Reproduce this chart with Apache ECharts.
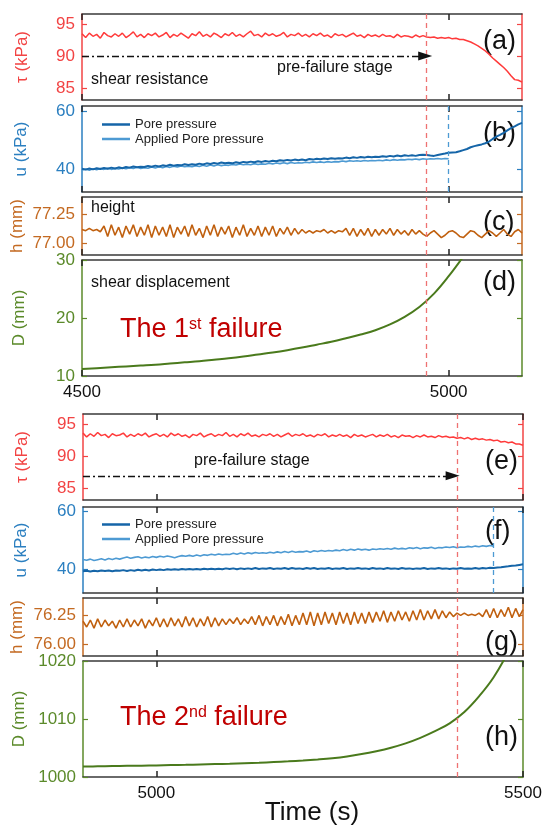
<!DOCTYPE html>
<html>
<head>
<meta charset="utf-8">
<script src="https://cdn.jsdelivr.net/npm/echarts@6/dist/echarts.min.js"></script>
<style>
  html, body { margin: 0; padding: 0; background: #fff; }
  #chart { width: 545px; height: 825px; }
</style>
</head>
<body>
<div id="chart"></div>
<script>
// ==================== 数据 ====================
// sample step of the logged series (s)
const stepSec = 5;
const firstStart = 4500;   // 1st failure window
const secondStart = 4900;  // 2nd failure window

// ---- 1st failure (a)-(d) ----
const tauFirst = [
  93.5, 92.9, 93.6, 93.1, 93.4, 92.8, 93.7, 93.2, 93.0, 93.5,
  93.1, 93.6, 92.9, 93.3, 93.8, 93.0, 93.4, 92.9, 93.5, 93.2,
  93.6, 93.0, 93.3, 93.7, 92.9, 93.4, 93.1, 93.6, 93.2, 92.8,
  93.5, 93.2, 93.8, 93.1, 93.4, 93.0, 93.6, 93.3, 92.9, 93.5,
  93.2, 93.7, 93.1, 93.4, 93.0, 93.5, 93.9, 93.2, 93.4, 93.0,
  93.6, 93.2, 93.5, 93.1, 93.3, 93.7, 93.0, 93.4, 93.2, 93.6,
  93.1, 93.4, 93.0, 93.5, 93.2, 93.6, 93.1, 93.3, 92.9, 93.5,
  93.2, 93.4, 93.0, 93.3, 93.6, 93.1, 93.3, 92.9, 93.4, 93.1,
  93.3, 93.0, 93.4, 93.1, 93.2, 92.9, 93.4, 93.0, 93.2, 93.1,
  92.9, 93.3, 93.0, 93.2, 93.0, 92.9, 93.0, 92.8, 92.9, 92.8,
  92.9, 92.7, 92.8, 92.6, 92.6, 92.4, 92.2, 91.9, 91.6, 91.2,
  90.8, 90.3, 89.7, 89.2, 88.7, 88.2, 87.6, 86.9, 86.3, 86.2,
  85.9
];
const poreFirst = [
  40.1, 39.8, 40.2, 39.9, 40.3, 40.0, 40.4, 40.1, 40.5, 40.2,
  40.6, 40.3, 40.7, 40.5, 40.9, 40.6, 40.8, 40.7, 41.1, 40.8,
  41.2, 40.9, 41.3, 41.1, 41.5, 41.2, 41.4, 41.3, 41.7, 41.4,
  41.7, 41.5, 41.9, 41.6, 42.0, 41.8, 42.1, 41.9, 42.3, 42.0,
  42.2, 42.0, 42.4, 42.1, 42.5, 42.3, 42.6, 42.4, 42.7, 42.5,
  42.8, 42.6, 42.9, 42.7, 43.1, 42.9, 43.2, 43.0, 43.3, 43.1,
  43.3, 43.1, 43.5, 43.3, 43.6, 43.4, 43.7, 43.5, 43.8, 43.6,
  43.8, 43.7, 44.0, 43.8, 44.1, 43.9, 44.2, 44.0, 44.3, 44.1,
  44.3, 44.2, 44.5, 44.3, 44.6, 44.4, 44.7, 44.5, 44.8, 44.6,
  44.8, 44.6, 44.9, 45.0, 44.9, 44.7, 44.6, 44.9, 45.2, 45.4,
  45.7, 45.8, 45.9, 46.2, 46.6, 47.0, 47.6, 48.0, 48.3, 48.6,
  49.0, 49.6, 50.5, 51.3, 51.9, 52.6, 53.5, 54.3, 54.9, 55.6,
  56.1
];
const appliedFirst = [
  39.7, 40.0, 39.6, 40.1, 39.8, 40.2, 39.9, 40.3, 39.9, 40.2,
  40.0, 40.4, 40.1, 40.5, 40.2, 40.6, 40.2, 40.5, 40.3, 40.7,
  40.4, 40.8, 40.5, 40.9, 40.6, 41.0, 40.7, 41.1, 40.8, 41.0,
  40.8, 41.2, 40.9, 41.3, 41.0, 41.4, 41.1, 41.5, 41.2, 41.4,
  41.3, 41.6, 41.4, 41.8, 41.5, 41.7, 41.5, 41.9, 41.6, 41.8,
  41.7, 42.0, 41.8, 42.1, 41.9, 42.2, 41.9, 42.3, 42.0, 42.2,
  42.1, 42.4, 42.2, 42.5, 42.3, 42.5, 42.3, 42.6, 42.4, 42.6,
  42.5, 42.8, 42.6, 42.9, 42.7, 42.9, 42.7, 43.0, 42.8, 43.0,
  42.9, 43.1, 42.9, 43.2, 43.0, 43.3, 43.1, 43.3, 43.2, 43.4,
  43.3, 43.5, 43.3, 43.6, 43.4, 43.6, 43.5, 43.7, 43.5, 43.7,
  43.6
];
const heightFirst = [
  77.12, 77.11, 77.13, 77.11, 77.12, 77.10, 77.15, 77.06, 77.16, 77.07,
  77.14, 77.05, 77.15, 77.08, 77.16, 77.06, 77.14, 77.07, 77.16, 77.05,
  77.15, 77.07, 77.14, 77.06, 77.16, 77.05, 77.14, 77.08, 77.15, 77.06,
  77.16, 77.07, 77.13, 77.05, 77.15, 77.07, 77.16, 77.06, 77.14, 77.08,
  77.15, 77.05, 77.14, 77.07, 77.16, 77.06, 77.13, 77.07, 77.15, 77.06,
  77.14, 77.07, 77.15, 77.06, 77.13, 77.08, 77.14, 77.07, 77.13, 77.08,
  77.12, 77.09, 77.11, 77.09, 77.11, 77.10, 77.12, 77.09, 77.11, 77.09,
  77.11, 77.10, 77.13, 77.07, 77.13, 77.06, 77.12, 77.07, 77.13, 77.06,
  77.12, 77.07, 77.12, 77.08, 77.13, 77.07, 77.12, 77.08, 77.11, 77.07,
  77.12, 77.08, 77.11, 77.08, 77.06, 77.09, 77.11, 77.08, 77.05, 77.07,
  77.10, 77.11, 77.09, 77.06, 77.05, 77.08, 77.11, 77.10, 77.07, 77.05,
  77.08, 77.11, 77.09, 77.06, 77.09, 77.12, 77.08, 77.06, 77.10, 77.12,
  77.09
];
const dispFirstTime = [
  4500, 4520, 4540, 4560, 4580, 4600, 4620, 4640, 4660, 4680,
  4700, 4720, 4740, 4760, 4780, 4800, 4820, 4840, 4860, 4880,
  4900, 4920, 4940, 4960, 4980, 5000, 5020
];
const dispFirst = [
  11.2, 11.35, 11.5, 11.65, 11.8, 11.95, 12.15, 12.35, 12.55, 12.8,
  13.05, 13.35, 13.7, 14.05, 14.45, 14.9, 15.4, 15.9, 16.5, 17.15,
  17.9, 18.9, 20.2, 21.9, 24.2, 27.2, 30.6
];

// ---- 2nd failure (e)-(h) ----
const tauSecond = [
  93.6, 93.0, 93.5, 93.1, 93.7, 93.2, 93.4, 92.9, 93.5, 93.2,
  93.3, 93.6, 93.0, 93.4, 93.1, 93.5, 93.2, 93.6, 93.0, 93.3,
  93.5, 93.1, 93.4, 93.0, 93.6, 93.2, 93.5, 93.1, 93.3, 92.9,
  93.4, 93.2, 93.6, 93.0, 93.3, 93.5, 93.1, 93.4, 93.2, 93.7,
  93.1, 93.4, 93.0, 93.5, 93.2, 93.6, 93.1, 93.3, 93.0, 93.4,
  93.2, 93.5, 93.1, 93.4, 93.0, 93.3, 93.6, 93.1, 93.4, 93.2,
  93.5, 93.1, 93.3, 93.0, 93.4, 93.2, 93.5, 93.0, 93.3, 93.1,
  93.4, 93.1, 93.3, 92.9, 93.4, 93.1, 93.3, 93.0, 93.2, 93.4,
  93.0, 93.3, 93.1, 93.4, 93.0, 93.2, 92.9, 93.3, 93.1, 93.2,
  92.9, 93.2, 93.0, 93.3, 93.0, 93.1, 92.9, 93.2, 93.0, 93.1,
  92.9, 93.0, 92.8, 92.9, 92.7, 92.9, 92.6, 92.8, 92.6, 92.7,
  92.5, 92.6, 92.4, 92.5, 92.2, 92.3, 92.1, 92.2, 91.9, 91.9,
  91.7
];
const poreSecond = [
  39.3, 39.5, 39.2, 39.5, 39.3, 39.6, 39.4, 39.6, 39.3, 39.6,
  39.5, 39.7, 39.4, 39.7, 39.5, 39.8, 39.6, 39.8, 39.6, 39.9,
  39.7, 39.9, 39.7, 40.0, 39.8, 40.0, 39.8, 40.1, 39.9, 40.1,
  39.9, 40.1, 39.9, 40.2, 40.0, 40.2, 40.0, 40.2, 40.0, 40.3,
  40.1, 40.3, 40.0, 40.3, 40.1, 40.3, 40.1, 40.4, 40.1, 40.3,
  40.2, 40.4, 40.1, 40.3, 40.2, 40.4, 40.1, 40.4, 40.2, 40.3,
  40.1, 40.4, 40.2, 40.4, 40.1, 40.3, 40.2, 40.4, 40.1, 40.3,
  40.2, 40.4, 40.1, 40.3, 40.2, 40.4, 40.2, 40.3, 40.1, 40.4,
  40.2, 40.3, 40.1, 40.4, 40.2, 40.3, 40.1, 40.4, 40.2, 40.3,
  40.1, 40.3, 40.2, 40.4, 40.1, 40.3, 40.2, 40.4, 40.2, 40.3,
  40.1, 40.3, 40.2, 40.4, 40.2, 40.3, 40.2, 40.4, 40.2, 40.4,
  40.3, 40.5, 40.4, 40.6, 40.7, 40.9, 41.0, 41.2, 41.3, 41.5,
  41.7
];
const appliedSecond = [
  43.4, 43.1, 43.5, 43.0, 43.3, 43.6, 43.2, 43.7, 43.4, 43.8,
  43.5, 43.9, 44.2, 43.8, 44.1, 44.3, 43.9, 44.2, 44.0, 44.4,
  44.1, 44.5, 44.2, 44.6, 44.3, 44.0, 44.4, 44.7, 44.5, 44.8,
  44.5, 44.9, 44.6, 45.0, 44.8, 45.2, 44.9, 45.3, 45.0, 45.2,
  45.1, 45.5, 45.2, 45.6, 45.3, 45.7, 45.4, 45.8, 45.5, 45.7,
  45.5, 45.9, 45.6, 46.0, 45.7, 46.1, 45.8, 46.2, 45.9, 46.1,
  46.0, 46.3, 45.9, 46.4, 46.1, 46.5, 46.2, 46.5, 46.3, 46.6,
  46.4, 46.8, 46.5, 46.9, 46.6, 47.0, 46.7, 46.9, 46.6, 47.0,
  46.8, 47.1, 46.9, 47.2, 46.9, 47.3, 47.0, 47.2, 47.0, 47.4,
  47.2, 47.5, 47.1, 47.4, 47.3, 47.6, 47.2, 47.5, 47.4, 47.7,
  47.5, 47.8, 47.4, 47.7, 47.6, 47.9, 47.7, 48.0, 47.8, 48.1,
  47.9, 48.2, 48.0
];
const heightSecond = [
  76.20, 76.15, 76.21, 76.14, 76.22, 76.15, 76.21, 76.16, 76.20, 76.14,
  76.21, 76.15, 76.22, 76.15, 76.21, 76.16, 76.22, 76.14, 76.21, 76.16,
  76.23, 76.15, 76.22, 76.15, 76.23, 76.16, 76.22, 76.15, 76.24, 76.16,
  76.23, 76.15, 76.22, 76.16, 76.24, 76.15, 76.23, 76.16, 76.22, 76.17,
  76.22, 76.18, 76.23, 76.17, 76.22, 76.18, 76.24, 76.17, 76.25, 76.16,
  76.24, 76.17, 76.25, 76.16, 76.24, 76.17, 76.26, 76.16, 76.25, 76.17,
  76.27, 76.17, 76.28, 76.16, 76.27, 76.17, 76.28, 76.18, 76.27, 76.17,
  76.28, 76.18, 76.27, 76.17, 76.28, 76.18, 76.27, 76.18, 76.28, 76.19,
  76.28, 76.20, 76.29, 76.19, 76.28, 76.20, 76.29, 76.21, 76.28, 76.20,
  76.29, 76.21, 76.30, 76.21, 76.29, 76.22, 76.30, 76.22, 76.29, 76.23,
  76.28, 76.24, 76.27, 76.25, 76.27, 76.25, 76.26, 76.25, 76.27, 76.24,
  76.30, 76.23, 76.31, 76.23, 76.30, 76.24, 76.32, 76.23, 76.31, 76.24,
  76.30
];
const dispSecondTime = [
  4900, 4920, 4940, 4960, 4980, 5000, 5020, 5040, 5060, 5080,
  5100, 5120, 5140, 5160, 5180, 5200, 5220, 5240, 5260, 5280,
  5300, 5320, 5340, 5360, 5380, 5400, 5420, 5440, 5460, 5480
];
const dispSecond = [
  1001.80, 1001.84, 1001.88, 1001.92, 1001.96, 1002.00, 1002.05, 1002.10, 1002.16, 1002.22,
  1002.29, 1002.37, 1002.46, 1002.57, 1002.70, 1002.85, 1003.03, 1003.25, 1003.55, 1003.95,
  1004.45, 1005.05, 1005.80, 1006.75, 1007.90, 1009.25, 1011.20, 1013.90, 1017.20, 1021.60
];

// markers: pre-failure line, applied-pressure stop, pre-failure arrow
const failFirst = 4970;
const failSecond = 5410;
const appliedStopFirst = 5000;
const appliedStopSecond = 5460;
const arrowFirst = [[4500, 90], [4968, 90]];
const arrowSecond = [[4900, 86.9], [5404, 86.9]];

// tick values
const xTicksFirst = [4500, 5000];
const xTicksSecond = [5000, 5500];
const tauTicks = [85, 90, 95];
const poreTicks = [40, 60];
const heightTicksFirst = [77.00, 77.25];
const heightTicksSecond = [76.00, 76.25];
const dispTicksFirst = [10, 20, 30];
const dispTicksSecond = [1000, 1010, 1020];

// ==================== 样式 ====================
const FONT = '"Liberation Sans", Arial, sans-serif';
const C = {
  red: '#f24444', redLine: '#ff3a3a',
  blue: '#2b7fc0', pore: '#1565a8', applied: '#4d9ad3',
  brown: '#c46a22', brownLine: '#c0600f',
  green: '#5b8a2a', greenLine: '#4a7a1c',
  frame: '#3a3a3a', failRed: '#ee7272', failText: '#c00000'
};

function toPairs(start, values) {
  return values.map((v, i) => [start + i * stepSec, v]);
}

// ==================== 面板 ====================
const panels = [
  { top: 14,  height: 86,  left: 82, right: 23, x: [4500, 5100], y: [83.1, 96.6], yTicks: tauTicks, color: C.red, xTicks: xTicksFirst },
  { top: 106, height: 86,  left: 82, right: 23, x: [4500, 5100], y: [32, 62], yTicks: poreTicks, color: C.blue, xTicks: xTicksFirst },
  { top: 197, height: 58,  left: 82, right: 23, x: [4500, 5100], y: [76.9, 77.4], yTicks: heightTicksFirst, color: C.brown, xTicks: xTicksFirst, dec: 2 },
  { top: 260, height: 116, left: 82, right: 23, x: [4500, 5100], y: [10, 30], yTicks: dispTicksFirst, color: C.green, xTicks: xTicksFirst, labels: true },
  { top: 414, height: 86,  left: 83, right: 22, x: [4900, 5500], y: [83.1, 96.6], yTicks: tauTicks, color: C.red, xTicks: xTicksSecond },
  { top: 507, height: 86,  left: 83, right: 22, x: [4900, 5500], y: [31.8, 61.5], yTicks: poreTicks, color: C.blue, xTicks: xTicksSecond },
  { top: 598, height: 58,  left: 83, right: 22, x: [4900, 5500], y: [75.9, 76.4], yTicks: heightTicksSecond, color: C.brown, xTicks: xTicksSecond, dec: 2 },
  { top: 661, height: 116, left: 83, right: 22, x: [4900, 5500], y: [1000, 1020], yTicks: dispTicksSecond, color: C.green, xTicks: xTicksSecond, labels: true }
];

const grids = [], xAxes = [], yAxes = [];
panels.forEach((p, k) => {
  grids.push({ left: p.left, right: p.right, top: p.top, height: p.height });
  ['bottom', 'top'].forEach(pos => {
    xAxes.push({
      type: 'value', gridIndex: k, position: pos, min: p.x[0], max: p.x[1],
      axisLine: { show: true, onZero: false, lineStyle: { color: C.frame, width: 1.5 } },
      axisTick: { show: true, inside: true, length: 6, customValues: p.xTicks, lineStyle: { color: '#222', width: 1.5 } },
      axisLabel: {
        show: pos === 'bottom' && !!p.labels, customValues: p.xTicks,
        color: '#111', fontSize: 17, fontFamily: FONT, margin: 8,
        formatter: v => String(v)
      },
      splitLine: { show: false }
    });
  });
  ['left', 'right'].forEach(pos => {
    yAxes.push({
      type: 'value', gridIndex: k, position: pos, min: p.y[0], max: p.y[1],
      axisLine: { show: true, onZero: false, lineStyle: { color: p.color, width: 1.5 } },
      axisTick: { show: true, inside: true, length: 5, customValues: p.yTicks, lineStyle: { color: p.color, width: 1.2 } },
      axisLabel: {
        show: pos === 'left', customValues: p.yTicks, color: p.color, fontSize: 17, fontFamily: FONT, margin: 7,
        formatter: v => p.dec ? v.toFixed(p.dec) : String(v)
      },
      splitLine: { show: false }
    });
  });
});

// 竖直虚线
function vLine(x, color) {
  return {
    silent: true, symbol: 'none', animation: false,
    label: { show: false },
    lineStyle: { type: [5, 4], color: color, width: 1.3 },
    data: [{ xAxis: x }]
  };
}
// 点划线箭头
function arrowLine(pts) {
  return {
    silent: true, animation: false,
    symbol: ['none', 'triangle'], symbolSize: [9, 14],
    label: { show: false },
    itemStyle: { color: '#111' },
    lineStyle: { type: [7, 3, 2, 3], color: '#111', width: 1.4 },
    data: [[{ coord: pts[0] }, { coord: pts[1] }]]
  };
}

function lineSeries(k, name, data, color, width, smooth, extra) {
  return Object.assign({
    type: 'line', name: name, xAxisIndex: 2 * k, yAxisIndex: 2 * k,
    data: data, showSymbol: false, symbol: 'none', smooth: smooth || false,
    color: color, lineStyle: { color: color, width: width }, itemStyle: { color: color },
    animation: false, silent: true
  }, extra || {});
}

const series = [
  lineSeries(0, 'tau1', toPairs(firstStart, tauFirst), C.redLine, 1.5, false, { markLine: vLine(failFirst, C.failRed) }),
  lineSeries(0, 'arrow1', [], '#111', 1, false, { markLine: arrowLine(arrowFirst) }),
  lineSeries(1, 'Applied Pore pressure', toPairs(firstStart, appliedFirst), C.applied, 1.6, false, { markLine: vLine(appliedStopFirst, C.applied) }),
  lineSeries(1, 'Pore pressure', toPairs(firstStart, poreFirst), C.pore, 2, false, { markLine: vLine(failFirst, C.failRed) }),
  lineSeries(2, 'h1', toPairs(firstStart, heightFirst), C.brownLine, 1.6, false, { markLine: vLine(failFirst, C.failRed) }),
  lineSeries(3, 'D1', dispFirstTime.map((t, i) => [t, dispFirst[i]]), C.greenLine, 2, 0.4,
    { markLine: vLine(failFirst, C.failRed) }),

  lineSeries(4, 'tau2', toPairs(secondStart, tauSecond), C.redLine, 1.5, false, { markLine: vLine(failSecond, C.failRed) }),
  lineSeries(4, 'arrow2', [], '#111', 1, false, { markLine: arrowLine(arrowSecond) }),
  lineSeries(5, 'Applied Pore pressure', toPairs(secondStart, appliedSecond), C.applied, 1.6, false, { markLine: vLine(appliedStopSecond, C.applied) }),
  lineSeries(5, 'Pore pressure', toPairs(secondStart, poreSecond), C.pore, 2, false, { markLine: vLine(failSecond, C.failRed) }),
  lineSeries(6, 'h2', toPairs(secondStart, heightSecond), C.brownLine, 1.6, false, { markLine: vLine(failSecond, C.failRed) }),
  lineSeries(7, 'D2', dispSecondTime.map((t, i) => [t, dispSecond[i]]), C.greenLine, 2, 0.4,
    { markLine: vLine(failSecond, C.failRed) })
];

function legendAt(top) {
  return {
    data: ['Pore pressure', 'Applied Pore pressure'],
    left: 97, top: top, orient: 'vertical', icon: 'rect',
    itemWidth: 28, itemHeight: 2.5, itemGap: 1.5, selectedMode: false,
    textStyle: { fontSize: 13, color: '#222', fontFamily: FONT }
  };
}

// ==================== 文字 ====================
function txt(x, y, text, size, color, align) {
  return {
    type: 'text', x: x, y: y, silent: true,
    style: { text: text, fill: color || '#111', font: size + 'px ' + FONT, textAlign: align || 'left', textVerticalAlign: 'middle' }
  };
}
function axisName(x, y, text, color) {
  return {
    type: 'text', x: x, y: y, rotation: Math.PI / 2, silent: true,
    style: { text: text, fill: color, font: '17px ' + FONT, textAlign: 'center', textVerticalAlign: 'middle' }
  };
}
function failure(y, ord, sup) {
  return {
    type: 'text', x: 120, y: y, silent: true,
    style: {
      text: '{n|The ' + ord + '}{s|' + sup + '}{n| failure}',
      textVerticalAlign: 'middle',
      rich: {
        n: { fill: C.failText, fontSize: 27, fontFamily: FONT },
        s: { fill: C.failText, fontSize: 16, fontFamily: FONT, verticalAlign: 'top' }
      }
    }
  };
}

const graphics = [
  axisName(22, 57, 'τ (kPa)', C.red),
  axisName(21, 149, 'u (kPa)', C.blue),
  axisName(17, 226, 'h (mm)', C.brown),
  axisName(19, 318, 'D (mm)', C.green),
  axisName(22, 457, 'τ (kPa)', C.red),
  axisName(21, 550, 'u (kPa)', C.blue),
  axisName(17, 627, 'h (mm)', C.brown),
  axisName(19, 719, 'D (mm)', C.green),

  txt(91, 80, 'shear resistance', 16),
  txt(277, 68, 'pre-failure stage', 16),
  txt(91, 208, 'height', 16),
  txt(91, 283, 'shear displacement', 16),
  txt(194, 461, 'pre-failure stage', 16),

  txt(483, 42, '(a)', 27), txt(483, 134, '(b)', 27), txt(483, 223, '(c)', 27), txt(483, 283, '(d)', 27),
  txt(485, 462, '(e)', 27), txt(485, 532, '(f)', 27), txt(485, 643, '(g)', 27), txt(485, 738, '(h)', 27),

  failure(330, '1', 'st'),
  failure(718, '2', 'nd'),
  txt(312, 813, 'Time (s)', 26, '#111', 'center')
];

const chart = echarts.init(document.getElementById('chart'), null, { renderer: 'canvas' });
chart.setOption({
  backgroundColor: '#fff',
  animation: false,
  textStyle: { fontFamily: FONT },
  grid: grids,
  xAxis: xAxes,
  yAxis: yAxes,
  legend: [legendAt(113), legendAt(513)],
  series: series,
  graphic: graphics
});
</script>
</body>
</html>
